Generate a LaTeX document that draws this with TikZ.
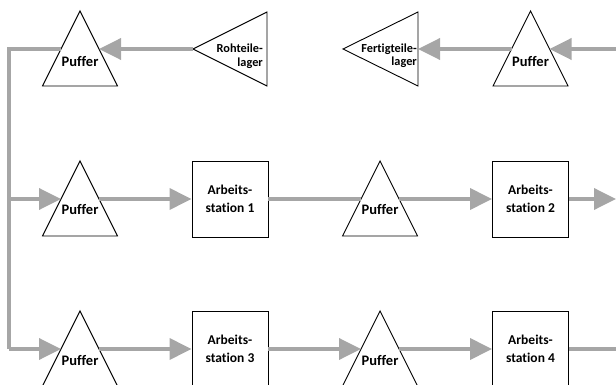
\documentclass[tikz,border=0pt]{standalone}
\usepackage{fontspec}
\setmainfont{Carlito}[Ligatures={NoCommon}]
\usetikzlibrary{arrows.meta}
\definecolor{flowgray}{HTML}{A6A6A6}
\tikzset{
  tri/.style={draw=black, line width=0.9pt, line join=miter},
  box/.style={draw=black, line width=0.9pt, minimum width=76pt, minimum height=76pt, inner sep=0pt, align=center,
    font=\fontsize{13.5}{18.5}\selectfont\bfseries},
  plbl/.style={font=\fontsize{14.5}{16}\selectfont\bfseries, inner sep=0pt},
  slbl/.style={font=\fontsize{12.3}{13.5}\selectfont\bfseries, inner sep=0pt, align=right, anchor=east},
  flowline/.style={draw=flowgray, line width=3.6pt},
  flow/.style={flowline, -{Triangle[length=22pt,width=21pt]}}
}
\begin{document}
\begin{tikzpicture}[x=1pt,y=-1pt]
\useasboundingbox (0,0) rectangle (616,385);
\clip (0,0) rectangle (616,385);
% ---- top row (y=49)
\draw[tri] (80,11) -- (42.5,86) -- (117.5,86) -- cycle;
\coordinate (pt1l) at (61,49); \coordinate (pt1r) at (99,49);
\node[plbl] (pt1) at (80,62) {Puffer};
\draw[tri] (193,49) -- (267,12) -- (267,86) -- cycle;
\coordinate (rl) at (193,49);
\node[slbl] (rlt) at (263,56) {Rohteile-\\lager};
\draw[tri] (343,49) -- (418,12) -- (418,86) -- cycle;
\coordinate (fl) at (418,49);
\node[slbl] (flt) at (417,55.5) {Fertigteile-\\lager};
\draw[tri] (530.5,11) -- (493,86) -- (568,86) -- cycle;
\coordinate (pt2l) at (511.5,49); \coordinate (pt2r) at (549.5,49);
\node[plbl] (pt2) at (530.5,62) {Puffer};
\coordinate (inr) at (616,49);
% ---- middle row (y=199)
\draw[tri] (80,161) -- (42.5,236) -- (117.5,236) -- cycle;
\coordinate (pm1l) at (61,199); \coordinate (pm1r) at (99,199);
\node[plbl] (pm1) at (80,210) {Puffer};
\node[box] (as1) at (230,199) {Arbeits-\\station 1};
\draw[tri] (380,161) -- (342.5,236) -- (417.5,236) -- cycle;
\coordinate (pm2l) at (361,199); \coordinate (pm2r) at (399,199);
\node[plbl] (pm2) at (380,210) {Puffer};
\node[box] (as2) at (530.5,199) {Arbeits-\\station 2};
\coordinate (outm) at (616,199);
% ---- bottom row (y=349)
\draw[tri] (80,311) -- (42.5,386) -- (117.5,386) -- cycle;
\coordinate (pb1l) at (61,349); \coordinate (pb1r) at (99,349);
\node[plbl] (pb1) at (80,361) {Puffer};
\node[box] (as3) at (230,349) {Arbeits-\\station 3};
\draw[tri] (380,311) -- (342.5,386) -- (417.5,386) -- cycle;
\coordinate (pb2l) at (361,349); \coordinate (pb2r) at (399,349);
\node[plbl] (pb2) at (380,361) {Puffer};
\node[box] (as4) at (530.5,349) {Arbeits-\\station 4};
\coordinate (outb) at (620,349);
% ---- left return line
\coordinate (ctop) at (9,49); \coordinate (cmid) at (9,199); \coordinate (cbot) at (9,349);
% ---- connectors
\draw[flow] (inr) -- (pt2r);
\draw[flow] (pt2l) -- (fl);
\draw[flow] (rl) -- (pt1r);
\draw[flowline, line join=miter] (pt1l) -- (ctop) -- (cbot);
\draw[flow] (cmid) -- (pm1l);
\draw[flow] (cbot) -- (pb1l);
\draw[flow] (pm1r) -- (as1.west);
\draw[flowline] (as1.east) -- (pm2l);
\draw[flow] (pm2r) -- (as2.west);
\draw[flow] (as2.east) -- (outm);
\draw[flow] (pb1r) -- (as3.west);
\draw[flow] (as3.east) -- (pb2l);
\draw[flow] (pb2r) -- (as4.west);
\draw[flowline] (as4.east) -- (outb);
\end{tikzpicture}
\end{document}
